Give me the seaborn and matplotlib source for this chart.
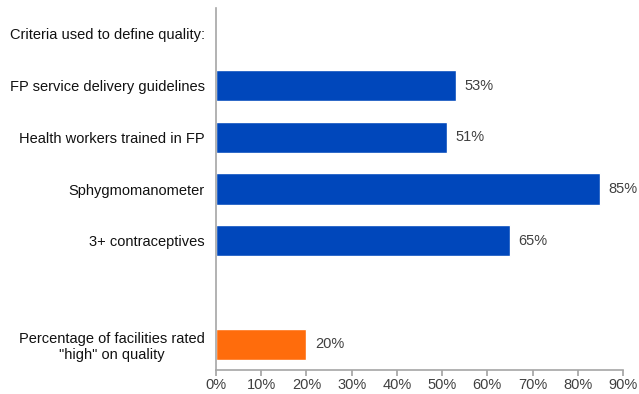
import matplotlib
matplotlib.use("Agg")
import matplotlib.pyplot as plt
import seaborn as sns
import pandas as pd
from matplotlib.ticker import FuncFormatter

# Rows shown on the chart, top to bottom (header and spacer rows have no bar)
row_order = [
    "Criteria used to define quality:",
    "FP service delivery guidelines",
    "Health workers trained in FP",
    "Sphygmomanometer",
    "3+ contraceptives",
    " ",
    "Percentage of facilities rated\n\"high\" on quality",
]
bar_labels = [
    "FP service delivery guidelines",
    "Health workers trained in FP",
    "Sphygmomanometer",
    "3+ contraceptives",
    "Percentage of facilities rated\n\"high\" on quality",
]
bar_values = [53, 51, 85, 65, 20]
bar_colors = ["#0047BB", "#0047BB", "#0047BB", "#0047BB", "#FF6C0C"]
x_ticks = [0, 10, 20, 30, 40, 50, 60, 70, 80, 90]

sns.set_theme(style="white")
plt.rcParams["font.family"] = ["Liberation Sans", "DejaVu Sans"]

df = pd.DataFrame({"label": bar_labels, "value": bar_values})

fig = plt.figure(figsize=(6.39, 3.94), dpi=100)
ax = fig.add_axes([216 / 639, 1 - 370 / 394, (623 - 216) / 639, (370 - 8) / 394])

sns.barplot(
    data=df, x="value", y="label", order=row_order,
    hue="label", hue_order=bar_labels, palette=bar_colors,
    legend=False, width=0.6, ax=ax, saturation=1,
)

for container in ax.containers:
    ax.bar_label(container, fmt="%.0f%%", padding=6, fontsize=10.5, color="#404040")

ax.set_xlim(0, 90)
ax.set_ylim(6.5, -0.5)
ax.set_xticks(x_ticks)
ax.xaxis.set_major_formatter(FuncFormatter(lambda v, _: f"{v:.0f}%"))
ax.set_xlabel("")
ax.set_ylabel("")

for side in ["top", "right"]:
    ax.spines[side].set_visible(False)
for side in ["left", "bottom"]:
    ax.spines[side].set_color("#A6A6A6")
    ax.spines[side].set_linewidth(1.2)

ax.tick_params(axis="x", bottom=True, length=4, color="#A6A6A6", labelsize=10.5,
               labelcolor="#404040", pad=2)
ax.tick_params(axis="y", left=False, length=0, labelsize=10.5,
               labelcolor="#111111", pad=8)
for t in ax.get_yticklabels():
    t.set_horizontalalignment("right")
    t.set_multialignment("center")

fig.savefig("out.png", dpi=100)
